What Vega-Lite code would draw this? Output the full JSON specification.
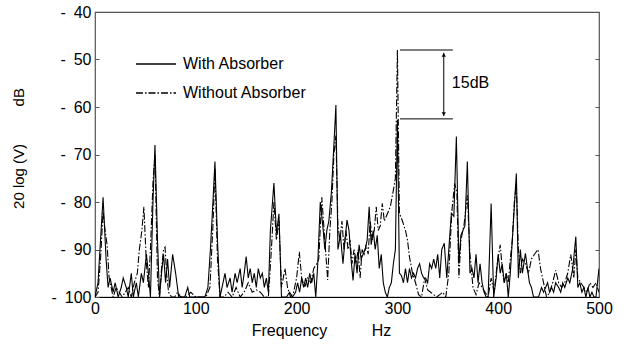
{
  "$schema": "https://vega.github.io/schema/vega-lite/v6.json",
  "width": 504,
  "height": 285,
  "autosize": {"type": "none"},
  "padding": {"left": 95, "top": 12, "right": 27, "bottom": 48},
  "background": "white",
  "config": {
    "font": "Liberation Sans",
    "view": {"stroke": "#555", "strokeWidth": 1.2},
    "axis": {"grid": false, "labelFont": "Liberation Sans", "titleFont": "Liberation Sans", "labelColor": "black", "titleColor": "black", "titleFontWeight": "normal"}
  },
  "datasets": {
    "with": [
      {"f":0,"db":-100},{"f":3,"db":-97},{"f":5.5,"db":-88},{"f":8,"db":-79},{"f":11,"db":-92},{"f":13,"db":-98},{"f":15,"db":-96},{"f":18,"db":-99},{"f":20,"db":-97},{"f":23,"db":-100},{"f":26,"db":-98},{"f":28,"db":-96},{"f":31,"db":-98},{"f":33,"db":-100},{"f":36,"db":-95},{"f":38,"db":-100},{"f":41,"db":-97},{"f":43,"db":-100},{"f":46,"db":-95},{"f":48,"db":-97},{"f":51,"db":-91},{"f":53,"db":-95},{"f":55,"db":-100},{"f":57.5,"db":-80},{"f":59.5,"db":-68},{"f":62,"db":-88},{"f":64,"db":-100},{"f":66,"db":-95},{"f":68,"db":-91},{"f":70,"db":-97},{"f":72,"db":-92},{"f":74,"db":-98},{"f":77,"db":-91},{"f":80,"db":-95},{"f":83,"db":-100},{"f":86,"db":-100},{"f":89,"db":-100},{"f":92,"db":-98},{"f":94,"db":-100},{"f":97,"db":-100},{"f":100,"db":-100},{"f":103,"db":-100},{"f":106,"db":-100},{"f":109,"db":-100},{"f":112,"db":-98},{"f":114.5,"db":-90},{"f":117,"db":-80},{"f":119,"db":-71.5},{"f":121.5,"db":-88},{"f":124,"db":-100},{"f":127,"db":-97},{"f":129,"db":-95},{"f":131,"db":-98},{"f":134,"db":-96},{"f":136,"db":-99},{"f":139,"db":-95},{"f":141,"db":-97},{"f":144,"db":-94},{"f":146,"db":-98},{"f":148,"db":-95},{"f":150,"db":-91.5},{"f":152,"db":-96},{"f":154,"db":-94},{"f":156,"db":-97},{"f":158,"db":-95},{"f":160,"db":-98},{"f":162,"db":-94},{"f":164,"db":-96},{"f":166,"db":-95},{"f":168,"db":-98},{"f":170,"db":-96},{"f":172,"db":-99},{"f":174,"db":-86},{"f":177.5,"db":-76},{"f":180,"db":-86.5},{"f":182.5,"db":-82.5},{"f":185,"db":-100},{"f":187,"db":-100},{"f":190,"db":-100},{"f":193,"db":-99},{"f":196,"db":-100},{"f":199,"db":-99},{"f":201,"db":-97},{"f":203,"db":-99},{"f":205,"db":-96},{"f":207,"db":-98},{"f":209,"db":-96},{"f":211,"db":-98},{"f":213,"db":-95},{"f":215,"db":-97},{"f":217,"db":-95},{"f":219,"db":-100},{"f":221,"db":-93},{"f":223.5,"db":-80},{"f":226,"db":-85},{"f":228,"db":-90},{"f":230,"db":-86},{"f":232,"db":-84},{"f":234.5,"db":-78},{"f":237,"db":-68},{"f":239,"db":-59.6},{"f":241,"db":-90},{"f":243.5,"db":-87},{"f":246,"db":-93},{"f":248,"db":-88},{"f":250,"db":-83.8},{"f":252,"db":-86},{"f":254,"db":-92},{"f":256,"db":-96.5},{"f":258,"db":-91},{"f":260,"db":-95},{"f":262,"db":-89},{"f":264,"db":-92},{"f":266,"db":-91},{"f":268,"db":-90},{"f":270,"db":-88},{"f":272,"db":-81},{"f":274,"db":-89},{"f":276,"db":-86},{"f":278,"db":-90},{"f":280,"db":-87},{"f":282,"db":-94},{"f":284,"db":-91},{"f":286,"db":-97},{"f":288,"db":-99},{"f":290,"db":-100},{"f":292,"db":-98},{"f":294,"db":-97},{"f":296,"db":-93},{"f":298,"db":-90},{"f":300,"db":-62.7},{"f":302,"db":-95},{"f":304,"db":-95.5},{"f":306,"db":-97},{"f":308,"db":-94},{"f":310,"db":-97},{"f":312,"db":-94},{"f":314,"db":-96},{"f":316,"db":-95},{"f":318,"db":-96},{"f":320,"db":-94},{"f":322,"db":-93},{"f":324,"db":-95},{"f":326,"db":-96},{"f":328,"db":-96},{"f":330,"db":-97},{"f":332,"db":-93},{"f":334,"db":-94},{"f":336,"db":-92},{"f":338,"db":-94},{"f":340,"db":-91},{"f":342,"db":-96},{"f":344,"db":-90},{"f":346.5,"db":-88.7},{"f":349,"db":-96},{"f":351,"db":-90},{"f":353.5,"db":-82.4},{"f":356,"db":-83},{"f":358.5,"db":-66.2},{"f":361,"db":-93},{"f":363,"db":-87},{"f":365,"db":-86},{"f":367,"db":-85},{"f":369.4,"db":-71.5},{"f":372,"db":-95},{"f":374,"db":-94},{"f":376,"db":-96},{"f":378,"db":-91},{"f":380,"db":-97},{"f":382,"db":-93},{"f":384,"db":-97},{"f":386,"db":-99},{"f":388,"db":-100},{"f":390,"db":-100},{"f":393,"db":-80.3},{"f":395.5,"db":-100},{"f":398,"db":-96},{"f":400,"db":-91},{"f":402,"db":-95},{"f":404,"db":-93},{"f":406,"db":-97},{"f":408,"db":-95},{"f":410,"db":-100},{"f":412,"db":-95},{"f":414,"db":-88},{"f":416,"db":-81},{"f":418,"db":-74},{"f":420,"db":-96},{"f":422,"db":-90},{"f":424,"db":-95},{"f":427,"db":-90.8},{"f":429,"db":-94},{"f":431,"db":-97},{"f":433,"db":-98},{"f":435,"db":-100},{"f":437,"db":-100},{"f":440,"db":-100},{"f":443,"db":-98},{"f":445,"db":-99},{"f":447,"db":-98},{"f":449,"db":-97},{"f":451,"db":-99},{"f":453,"db":-98},{"f":455,"db":-99},{"f":457,"db":-97},{"f":460,"db":-98},{"f":462,"db":-99},{"f":464,"db":-97},{"f":466,"db":-98},{"f":469,"db":-96},{"f":471,"db":-97},{"f":474,"db":-94},{"f":477,"db":-87.3},{"f":479,"db":-98},{"f":481,"db":-97},{"f":483,"db":-99},{"f":485,"db":-98},{"f":487,"db":-100},{"f":489,"db":-98},{"f":491,"db":-100},{"f":493,"db":-99},{"f":495,"db":-100},{"f":497,"db":-100},{"f":500,"db":-94}
    ],
    "without": [
      {"f":0,"db":-100},{"f":3,"db":-99},{"f":5.5,"db":-92},{"f":8,"db":-82},{"f":10,"db":-86},{"f":12,"db":-89},{"f":14,"db":-96},{"f":16,"db":-98},{"f":18,"db":-100},{"f":21,"db":-98},{"f":24,"db":-99},{"f":27,"db":-100},{"f":30,"db":-99},{"f":33,"db":-98},{"f":36,"db":-100},{"f":39,"db":-97},{"f":42,"db":-95},{"f":44,"db":-90},{"f":46.5,"db":-86},{"f":48.5,"db":-81},{"f":51,"db":-93},{"f":53,"db":-98},{"f":55,"db":-90},{"f":57.5,"db":-76},{"f":59.5,"db":-70},{"f":62,"db":-96},{"f":64,"db":-100},{"f":66,"db":-94},{"f":68,"db":-90},{"f":69.5,"db":-89.5},{"f":71,"db":-95},{"f":73,"db":-99},{"f":76,"db":-100},{"f":79,"db":-100},{"f":82,"db":-99},{"f":85,"db":-100},{"f":90,"db":-100},{"f":95,"db":-99},{"f":100,"db":-100},{"f":105,"db":-100},{"f":110,"db":-100},{"f":114,"db":-98},{"f":117,"db":-85},{"f":119,"db":-73},{"f":121.5,"db":-92},{"f":124,"db":-100},{"f":128,"db":-100},{"f":132,"db":-99},{"f":136,"db":-100},{"f":140,"db":-98},{"f":144,"db":-100},{"f":148,"db":-99},{"f":152,"db":-97},{"f":156,"db":-99},{"f":160,"db":-98.5},{"f":164,"db":-99},{"f":168,"db":-100},{"f":172,"db":-100},{"f":175,"db":-90},{"f":177.5,"db":-80},{"f":180,"db":-88},{"f":182.5,"db":-84},{"f":185,"db":-98},{"f":188.5,"db":-94},{"f":191,"db":-98},{"f":194,"db":-100},{"f":197,"db":-99},{"f":200,"db":-96},{"f":202.7,"db":-90.5},{"f":205,"db":-96},{"f":208,"db":-98},{"f":211,"db":-96},{"f":214,"db":-97},{"f":217,"db":-94},{"f":220,"db":-93},{"f":222,"db":-92},{"f":225,"db":-79},{"f":228,"db":-88},{"f":230.8,"db":-96.4},{"f":233,"db":-86},{"f":235,"db":-80},{"f":237,"db":-70},{"f":239,"db":-66},{"f":241,"db":-85},{"f":243,"db":-88},{"f":245,"db":-84},{"f":247,"db":-90},{"f":249,"db":-86},{"f":251,"db":-90},{"f":253,"db":-88},{"f":255,"db":-93},{"f":257,"db":-90},{"f":259,"db":-93},{"f":261,"db":-90},{"f":263,"db":-96},{"f":265,"db":-90},{"f":267,"db":-91},{"f":269,"db":-89},{"f":271,"db":-91},{"f":273,"db":-84},{"f":275,"db":-88},{"f":277,"db":-86},{"f":279,"db":-81},{"f":281,"db":-86},{"f":283,"db":-85},{"f":285,"db":-80.3},{"f":287,"db":-84},{"f":289,"db":-83},{"f":291,"db":-82},{"f":293,"db":-81},{"f":296,"db":-77.5},{"f":298,"db":-75},{"f":300,"db":-48},{"f":302,"db":-82.4},{"f":305,"db":-84},{"f":308,"db":-86},{"f":310,"db":-88},{"f":312,"db":-91.6},{"f":315,"db":-95},{"f":318,"db":-97},{"f":321,"db":-99.5},{"f":324,"db":-100},{"f":327,"db":-96},{"f":330,"db":-98.5},{"f":333,"db":-99},{"f":336,"db":-99.5},{"f":339,"db":-100},{"f":342,"db":-99.5},{"f":345,"db":-99},{"f":348,"db":-100},{"f":351,"db":-95},{"f":354,"db":-82},{"f":356.8,"db":-76.1},{"f":359,"db":-78},{"f":361,"db":-96},{"f":363,"db":-88},{"f":366,"db":-85},{"f":369.4,"db":-78.6},{"f":372,"db":-91},{"f":375,"db":-98},{"f":378,"db":-99.5},{"f":381,"db":-97},{"f":384,"db":-98},{"f":387,"db":-99},{"f":390,"db":-100},{"f":393,"db":-96},{"f":396,"db":-99},{"f":399,"db":-93},{"f":402,"db":-89},{"f":404,"db":-94},{"f":406,"db":-97},{"f":408,"db":-95},{"f":410,"db":-97},{"f":412,"db":-92},{"f":414,"db":-88},{"f":416,"db":-80},{"f":418,"db":-76},{"f":420,"db":-90},{"f":422,"db":-95},{"f":424,"db":-92},{"f":427,"db":-93},{"f":430,"db":-95},{"f":433,"db":-92},{"f":436,"db":-91},{"f":439.5,"db":-90},{"f":442,"db":-94},{"f":445,"db":-97},{"f":448,"db":-100},{"f":451,"db":-99},{"f":454,"db":-97},{"f":457,"db":-94.4},{"f":460,"db":-97},{"f":463,"db":-98},{"f":466,"db":-97},{"f":469,"db":-95},{"f":472,"db":-91},{"f":475,"db":-96},{"f":477,"db":-90},{"f":479,"db":-96},{"f":482,"db":-97},{"f":485,"db":-98},{"f":488,"db":-99},{"f":491,"db":-97},{"f":494,"db":-98},{"f":497,"db":-97},{"f":500,"db":-99}
    ],
    "levels": [
      {"f1":302.6,"f2":355,"db":-48},
      {"f1":302.6,"f2":355,"db":-62.5}
    ],
    "arrow": [
      {"f":346,"top":-48.6,"bot":-61.9,"label":"15dB","lf":354,"ldb":-55}
    ]
  },
  "resolve": {"axis": {"y": "independent", "x": "independent"}},
  "layer": [
    {
      "data": {"name": "without"},
      "mark": {"type": "line", "color": "black", "strokeWidth": 1.1, "clip": true},
      "encoding": {
        "x": {"field": "f", "type": "quantitative", "scale": {"domain": [0, 500], "nice": false},
          "axis": {"values": [0,100,200,300,400,500], "title": "Frequency\u00a0\u00a0\u00a0\u00a0\u00a0\u00a0\u00a0\u00a0\u00a0\u00a0Hz", "titleFontSize": 16, "titlePadding": 6, "titleX": 226, "titleAlign": "center", "labelFontSize": 16, "labelPadding": 3, "ticks": false, "domainColor": "black", "labelFlush": false}},
        "y": {"field": "db", "type": "quantitative", "scale": {"domain": [-100, -40], "nice": false},
          "axis": {"values": [-100,-90,-80,-70,-60,-50,-40], "labelExpr": "'-\u2002' + abs(datum.value)", "labelFontSize": 16, "tickSize": -4, "tickColor": "#555", "labelPadding": 8, "domain": false, "title": "20 log (V)\u00a0\u00a0\u00a0\u00a0\u00a0\u00a0\u00a0\u00a0\u00a0dB", "titleFontSize": 15, "titlePadding": 24, "titleY": 136}},
        "strokeDash": {"datum": "Without Absorber", "type": "nominal",
          "scale": {"domain": ["With Absorber", "Without Absorber"], "range": [[1, 0], [7, 2, 1.5, 2]]},
          "legend": {"orient": "none", "legendX": 40, "legendY": 31, "title": null, "symbolType": "stroke", "symbolSize": 1600, "symbolStrokeWidth": 1.3, "symbolStrokeColor": "black", "labelFontSize": 16, "labelFont": "Liberation Sans", "labelOffset": 6, "rowPadding": 0, "padding": 0, "labelColor": "black"}}
      }
    },
    {
      "data": {"name": "with"},
      "mark": {"type": "line", "color": "black", "strokeWidth": 1.1, "clip": true},
      "encoding": {
        "x": {"field": "f", "type": "quantitative", "axis": null},
        "y": {"field": "db", "type": "quantitative", "axis": {"orient": "right", "values": [-90,-80,-70,-60,-50], "labels": false, "tickSize": -4, "tickColor": "#555", "domain": false, "title": null}},
        "strokeDash": {"datum": "With Absorber", "type": "nominal"}
      }
    },
    {
      "data": {"name": "levels"},
      "mark": {"type": "rule", "color": "black", "strokeWidth": 1},
      "encoding": {
        "x": {"field": "f1", "type": "quantitative", "axis": null},
        "x2": {"field": "f2"},
        "y": {"field": "db", "type": "quantitative", "axis": null}
      }
    },
    {
      "data": {"name": "arrow"},
      "mark": {"type": "rule", "color": "black", "strokeWidth": 1},
      "encoding": {
        "x": {"field": "f", "type": "quantitative", "axis": null},
        "y": {"field": "top", "type": "quantitative", "axis": null},
        "y2": {"field": "bot"}
      }
    },
    {
      "data": {"name": "arrow"},
      "mark": {"type": "point", "shape": "triangle-up", "filled": true, "color": "black", "size": 18, "opacity": 1, "yOffset": 2},
      "encoding": {
        "x": {"field": "f", "type": "quantitative", "axis": null},
        "y": {"field": "top", "type": "quantitative", "axis": null}
      }
    },
    {
      "data": {"name": "arrow"},
      "mark": {"type": "point", "shape": "triangle-down", "filled": true, "color": "black", "size": 18, "opacity": 1, "yOffset": -2},
      "encoding": {
        "x": {"field": "f", "type": "quantitative", "axis": null},
        "y": {"field": "bot", "type": "quantitative", "axis": null}
      }
    },
    {
      "data": {"name": "arrow"},
      "mark": {"type": "text", "align": "left", "baseline": "middle", "fontSize": 16, "font": "Liberation Sans", "color": "black"},
      "encoding": {
        "x": {"field": "lf", "type": "quantitative", "axis": null},
        "y": {"field": "ldb", "type": "quantitative", "axis": null},
        "text": {"field": "label"}
      }
    }
  ]
}
